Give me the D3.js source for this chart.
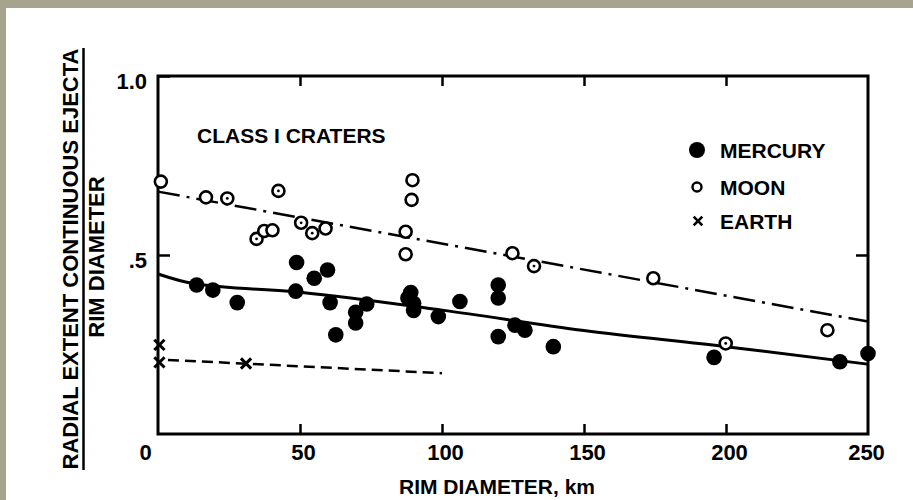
<!DOCTYPE html>
<html>
<head>
<meta charset="utf-8">
<script src="https://cdn.jsdelivr.net/npm/d3@7"></script>
<style>
  html, body { margin: 0; padding: 0; background: #a6a38f; }
  svg { display: block; }
  text { font-family: "Liberation Sans", Arial, Helvetica, sans-serif; font-weight: bold; fill: #000; }
</style>
</head>
<body>
<svg id="chart" width="913" height="500"></svg>
<script>
// ---- data ----
const mercuryX = [13.6, 19.3, 27.9, 48.8, 48.5, 55, 59.7, 60.6, 62.6, 69.6, 69.6, 73.5, 89, 88, 90, 90, 98.7, 106.3, 119.8, 119.8, 119.8, 125.7, 129.2, 139.2, 195.8, 240.1, 250];
const mercuryY = [0.416, 0.402, 0.367, 0.479, 0.399, 0.435, 0.458, 0.367, 0.277, 0.34, 0.31, 0.363, 0.395, 0.38, 0.365, 0.345, 0.328, 0.370, 0.416, 0.38, 0.272, 0.304, 0.29, 0.244, 0.214, 0.202, 0.225];

const moonX = [1, 16.9, 24.4, 34.7, 37.4, 40.3, 42.4, 50.4, 54.3, 59, 87.2, 87.2, 89.3, 89.6, 124.8, 132.4, 174.4, 199.9, 235.7];
const moonY = [0.705, 0.661, 0.658, 0.545, 0.567, 0.569, 0.679, 0.590, 0.561, 0.574, 0.565, 0.502, 0.654, 0.709, 0.505, 0.469, 0.435, 0.253, 0.29];
const moonDotted = [false, false, true, true, false, false, true, true, true, false, false, false, false, false, false, true, false, true, false];

const earthX = [0.5, 0.5, 31];
const earthY = [0.249, 0.2, 0.197];

const mercuryFitX = [0, 12, 50, 100, 150, 200, 250];
const mercuryFitY = [0.447, 0.421, 0.396, 0.346, 0.289, 0.244, 0.195];
const moonFitX = [0, 250];
const moonFitY = [0.677, 0.314];
const earthFitX = [3.5, 100];
const earthFitY = [0.207, 0.17];

const xTickValues = [0, 50, 100, 150, 200, 250];
const xTickLabels = ["0", "50", "100", "150", "200", "250"];
const yTickValues = [0.5, 1.0];
const yTickLabels = [".5", "1.0"];

const legendLabels = ["MERCURY", "MOON", "EARTH"];
const panelTitle = "CLASS I CRATERS";
const xTitle = "RIM DIAMETER, km";
const yTitleTop = "RADIAL EXTENT CONTINUOUS EJECTA";
const yTitleBottom = "RIM DIAMETER";

// ---- drawing ----
const svg = d3.select("#chart");
// white panel over grey border
svg.append("rect").attr("x", 6).attr("y", 8).attr("width", 907).attr("height", 492).attr("fill", "#fff");

const x = d3.scaleLinear().domain([0, 250]).range([158, 868]);
const y = d3.scaleLinear().domain([0, 1]).range([434, 76]);

// frame
svg.append("rect")
  .attr("x", x(0)).attr("y", y(1))
  .attr("width", x(250) - x(0)).attr("height", y(0) - y(1))
  .attr("fill", "none").attr("stroke", "#000").attr("stroke-width", 3);

// bottom axis (inward ticks)
const gB = svg.append("g").attr("transform", `translate(0,${y(0)})`)
  .call(d3.axisBottom(x).tickValues(xTickValues).tickSize(-10).tickPadding(10)
    .tickFormat((d, i) => xTickLabels[i]));
gB.select(".domain").remove();
gB.selectAll("line").attr("stroke-width", 2.5).filter(d => d === 0 || d === 250).remove();
gB.selectAll("text").attr("font-size", 22).attr("font-family", null)
  .attr("dx", d => d === 0 ? -13 : (d === 250 ? -2 : 3));

// top axis ticks (inward)
const gT = svg.append("g").attr("transform", `translate(0,${y(1)})`)
  .call(d3.axisTop(x).tickValues(xTickValues.slice(1, -1)).tickSize(-10).tickFormat(""));
gT.select(".domain").remove();
gT.selectAll("line").attr("stroke-width", 2.5);

// left axis
const gL = svg.append("g").attr("transform", `translate(${x(0)},0)`)
  .call(d3.axisLeft(y).tickValues(yTickValues).tickSize(-12).tickPadding(11)
    .tickFormat((d, i) => yTickLabels[i]));
gL.select(".domain").remove();
gL.selectAll("line").attr("stroke-width", 2.5);
gL.selectAll("text").attr("font-size", 22).attr("font-family", null).attr("y", 5);

// right axis ticks
const gR = svg.append("g").attr("transform", `translate(${x(250)},0)`)
  .call(d3.axisRight(y).tickValues([0.5]).tickSize(-12).tickFormat(""));
gR.select(".domain").remove();
gR.selectAll("line").attr("stroke-width", 2.5);

// fit lines
svg.append("path")
  .attr("d", d3.line().x(d => x(d[0])).y(d => y(d[1])).curve(d3.curveMonotoneX)(mercuryFitX.map((v, i) => [v, mercuryFitY[i]])))
  .attr("fill", "none").attr("stroke", "#000").attr("stroke-width", 3);
svg.append("path")
  .attr("d", d3.line().x(d => x(d[0])).y(d => y(d[1]))(moonFitX.map((v, i) => [v, moonFitY[i]])))
  .attr("fill", "none").attr("stroke", "#000").attr("stroke-width", 2.5)
  .attr("stroke-dasharray", "22,7,3,7");
svg.append("path")
  .attr("d", d3.line().x(d => x(d[0])).y(d => y(d[1]))(earthFitX.map((v, i) => [v, earthFitY[i]])))
  .attr("fill", "none").attr("stroke", "#000").attr("stroke-width", 2.5)
  .attr("stroke-dasharray", "11,6");

// moon points
const moonG = svg.append("g");
moonX.forEach((v, i) => {
  moonG.append("circle").attr("cx", x(v)).attr("cy", y(moonY[i])).attr("r", 6)
    .attr("fill", "#fff").attr("stroke", "#000").attr("stroke-width", 2.6);
  if (moonDotted[i]) {
    moonG.append("circle").attr("cx", x(v)).attr("cy", y(moonY[i])).attr("r", 1.4).attr("fill", "#000");
  }
});

// mercury points
svg.append("g").selectAll("circle")
  .data(mercuryX.map((v, i) => [v, mercuryY[i]]))
  .join("circle")
  .attr("cx", d => x(d[0])).attr("cy", d => y(d[1])).attr("r", 7.8).attr("fill", "#000");

// earth points
const cross = d3.symbol().type(d3.symbolX).size(70);
svg.append("g").selectAll("path")
  .data(earthX.map((v, i) => [v, earthY[i]]))
  .join("path")
  .attr("transform", d => `translate(${x(d[0])},${y(d[1])})`)
  .attr("d", cross).attr("stroke", "#000").attr("stroke-width", 3).attr("fill", "none");

// legend
const lg = svg.append("g");
const rowY = [150, 187, 221];
lg.append("circle").attr("cx", 697).attr("cy", rowY[0]).attr("r", 8).attr("fill", "#000");
lg.append("circle").attr("cx", 697).attr("cy", rowY[1]).attr("r", 4.5).attr("fill", "#fff")
  .attr("stroke", "#000").attr("stroke-width", 2.4);
lg.append("path").attr("transform", `translate(698,${rowY[2]})`)
  .attr("d", d3.symbol().type(d3.symbolX).size(50)).attr("stroke", "#000").attr("stroke-width", 2.6);
legendLabels.forEach((t, i) => {
  lg.append("text").attr("x", 720).attr("y", rowY[i] + 7.5).attr("font-size", 21).text(t);
});

// panel title
svg.append("text").attr("x", 197).attr("y", 143).attr("font-size", 21).text(panelTitle);

// x title
svg.append("text").attr("x", 497).attr("y", 494).attr("text-anchor", "middle")
  .attr("font-size", 21).text(xTitle);

// y title (fraction)
svg.append("text").attr("transform", "translate(78,259) rotate(-90)")
  .attr("text-anchor", "middle").attr("font-size", 22).text(yTitleTop);
svg.append("line").attr("x1", 83.5).attr("x2", 83.5).attr("y1", 48).attr("y2", 470)
  .attr("stroke", "#000").attr("stroke-width", 2.5);
svg.append("text").attr("transform", "translate(104,257) rotate(-90)")
  .attr("text-anchor", "middle").attr("font-size", 22).text(yTitleBottom);
</script>
</body>
</html>
